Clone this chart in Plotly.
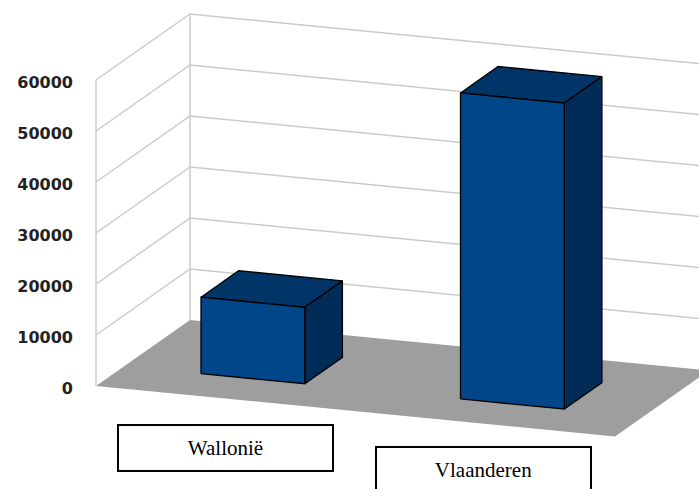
import plotly.graph_objects as go

categories = ["Wallonië", "Vlaanderen"]
values = [15000, 60000]
tick_values = [0, 10000, 20000, 30000, 40000, 50000, 60000]
tick_labels = ["0", "10000", "20000", "30000", "40000", "50000", "60000"]

W, H = 699, 489
VMAX = 60000
ORIGIN_X, ORIGIN_Y = 96, 386
PX_PER_UNIT = 306 / VMAX
SPAN_U = (519, 50.5)    # screen vector of the category axis
SPAN_W = (94, -66)      # screen vector of the depth axis
BAR_U = 0.4             # bar width as a fraction of a category slot
BAR_W = (0.3, 0.7)      # bar extent in depth
BAR_SHIFT = -0.002      # small sideways offset of the bars

FRONT, TOP, SIDE = "#02468A", "#023567", "#012C58"
GRID, FLOOR = "#CBCBCB", "#9E9E9E"


def project(u, w, v):
    """Oblique projection: horizontal pixel, and the value-axis position."""
    x = ORIGIN_X + SPAN_U[0] * u + SPAN_W[0] * w
    y = v - (SPAN_U[1] * u + SPAN_W[1] * w) / PX_PER_UNIT
    return x, y


def path(points):
    pts = [project(*p) for p in points]
    return [p[0] for p in pts], [p[1] for p in pts]


fig = go.Figure()


def poly(points, fill, line_color=None, line_width=1):
    x, y = path(points + points[:1])
    fig.add_trace(go.Scatter(
        x=x, y=y, mode="lines", fill="toself", fillcolor=fill,
        line=dict(color=line_color or fill, width=line_width if line_color else 0),
        hoverinfo="skip", showlegend=False))


def line(points, color, width):
    x, y = path(points)
    fig.add_trace(go.Scatter(x=x, y=y, mode="lines", line=dict(color=color, width=width),
                             hoverinfo="skip", showlegend=False))


# floor
poly([(0, 0, 0), (1, 0, 0), (1, 1, 0), (0, 1, 0)], FLOOR)

# walls: gridlines at every tick, on side wall and back wall
for t in tick_values:
    if t > 0:
        line([(0, 0, t), (0, 1, t), (1, 1, t)], GRID, 1.5)
line([(0, 0, 0), (0, 0, VMAX)], GRID, 1.5)
line([(0, 1, 0), (0, 1, VMAX)], GRID, 1.5)

# bars
n = len(categories)
for i, v in enumerate(values):
    c = (i + 0.5) / n + BAR_SHIFT
    half = BAR_U / n / 2
    u0, u1 = c - half, c + half
    w0, w1 = BAR_W
    poly([(u0, w0, v), (u1, w0, v), (u1, w1, v), (u0, w1, v)], TOP, "#000000", 1.3)
    poly([(u1, w0, 0), (u1, w1, 0), (u1, w1, v), (u1, w0, v)], SIDE, "#000000", 1.3)
    poly([(u0, w0, 0), (u1, w0, 0), (u1, w0, v), (u0, w0, v)], FRONT, "#000000", 1.3)

# category labels in boxes
box_centres = [(225.5, 448), (483, 470)]
for name, (bx, by) in zip(categories, box_centres):
    fig.add_annotation(
        x=bx / W, y=1 - by / H, xref="paper", yref="paper", text=name, showarrow=False,
        width=213, height=44, borderpad=0, bordercolor="#000000", borderwidth=2,
        bgcolor="#FFFFFF", align="center", valign="middle", xanchor="center", yanchor="middle",
        font=dict(family="Liberation Serif", size=21, color="#000000"))

fig.update_layout(
    width=W, height=H, autosize=False,
    margin=dict(l=0, r=0, t=0, b=0),
    paper_bgcolor="#FFFFFF", plot_bgcolor="#FFFFFF",
    showlegend=False,
    xaxis=dict(range=[0, W], visible=False, fixedrange=True),
    yaxis=dict(
        range=[-(H - ORIGIN_Y) / PX_PER_UNIT, ORIGIN_Y / PX_PER_UNIT],
        anchor="free", position=73 / W, side="left",
        tickmode="array", tickvals=tick_values, ticktext=tick_labels,
        showgrid=False, zeroline=False, showline=False, ticks="", fixedrange=True,
        ticklabelstandoff=0, ticklabelshift=2,
        tickfont=dict(family="DejaVu Sans", size=16, color="#222222", weight="bold"),
    ),
)

fig.write_html("out.html", config=dict(displayModeBar=False),
               post_script="document.body.style.margin='0';document.documentElement.style.overflow='hidden';")
